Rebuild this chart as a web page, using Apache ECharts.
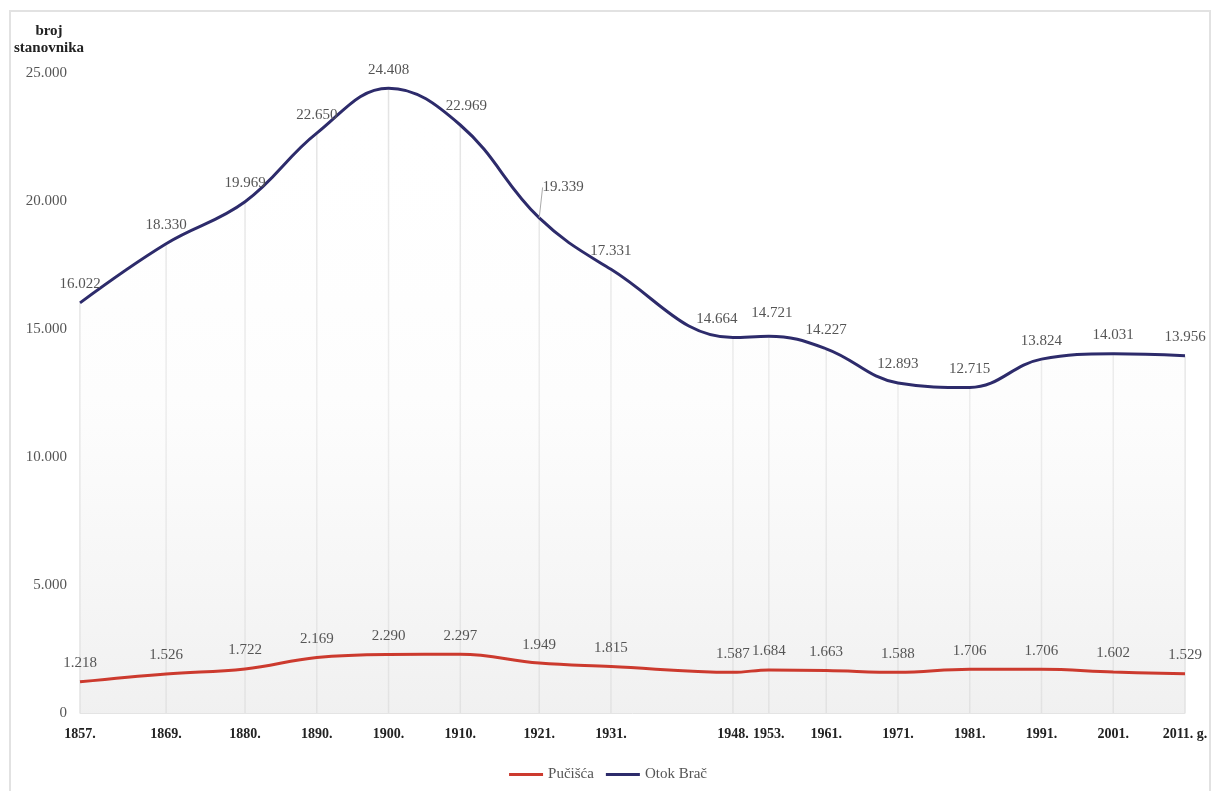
<!DOCTYPE html>
<html>
<head>
<meta charset="utf-8">
<script src="https://cdn.jsdelivr.net/npm/echarts@6/dist/echarts.min.js"></script>
<style>
  html, body { margin: 0; padding: 0; background: #fff; }
  #chart { width: 1216px; height: 791px; }
</style>
</head>
<body>
<div id="chart"></div>
<script>
  // godine popisa
  const years = [1857, 1869, 1880, 1890, 1900, 1910, 1921, 1931, 1948, 1953, 1961, 1971, 1981, 1991, 2001, 2011]
  // broj stanovnika
  const pucisca = [1218, 1526, 1722, 2169, 2290, 2297, 1949, 1815, 1587, 1684, 1663, 1588, 1706, 1706, 1602, 1529]
  const brac = [16022, 18330, 19969, 22650, 24408, 22969, 19339, 17331, 14664, 14721, 14227, 12893, 12715, 13824, 14031, 13956]
  const yTicks = [0, 5000, 10000, 15000, 20000, 25000]

  const serif = '"Liberation Serif", "DejaVu Serif", serif'

  /** 12345 -> 12.345 */
  function fmt(v) {
    return String(v).replace(/\B(?=(\d{3})+(?!\d))/g, '.')
  }

  const chart = echarts.init(document.getElementById('chart'))

  const bracPoints = years.map((y, i) => [y, brac[i]])
  const puciscaPoints = years.map((y, i) => [y, pucisca[i]])
  // oznaka 1921. ima spojnu liniju
  const bracData = bracPoints.map((d, i) => ({ value: d, labelLine: { show: i === 6 } }))

  const dataLabel = {
    show: true,
    position: 'top',
    distance: 11,
    fontFamily: serif,
    fontSize: 15,
    color: '#555',
    formatter: p => fmt(p.value[1])
  }

  chart.setOption({
    animation: false,
    backgroundColor: '#fff',
    graphic: [{
      type: 'rect',
      shape: { x: 10, y: 11, width: 1200, height: 790 },
      style: { fill: 'none', stroke: '#e2e2e2', lineWidth: 2 },
      silent: true
    }],
    grid: { left: 80, right: 31, top: 73, bottom: 78 },
    legend: {
      bottom: 4,
      left: 'center',
      itemWidth: 34,
      itemHeight: 3,
      itemGap: 12,
      icon: 'rect',
      textStyle: { fontFamily: serif, fontSize: 15, color: '#555' },
      data: ['Pučišća', 'Otok Brač']
    },
    xAxis: {
      type: 'value',
      min: years[0],
      max: years[years.length - 1],
      splitLine: { show: false },
      axisLine: { show: true, lineStyle: { color: '#e4e4e4', width: 1 } },
      axisTick: { show: false },
      axisLabel: {
        customValues: years,
        margin: 14,
        fontFamily: serif,
        fontWeight: 'bold',
        fontSize: 14,
        color: '#222',
        formatter: v => v === 2011 ? '2011. g.' : v + '.'
      }
    },
    yAxis: {
      type: 'value',
      min: 0,
      max: 25000,
      interval: 5000,
      name: 'broj\nstanovnika',
      nameLocation: 'end',
      nameGap: 16,
      nameTextStyle: {
        fontFamily: serif,
        fontWeight: 'bold',
        fontSize: 15,
        color: '#222',
        align: 'center',
        lineHeight: 17,
        padding: [0, 62, 0, 0]
      },
      splitLine: { show: false },
      axisLine: { show: false },
      axisTick: { show: false },
      axisLabel: {
        margin: 13,
        fontFamily: serif,
        fontSize: 15,
        color: '#555',
        formatter: v => fmt(v),
        customValues: yTicks
      }
    },
    series: [
      {
        // okomite linije od točke do osi
        name: 'drop',
        type: 'bar',
        silent: true,
        barWidth: 1.5,
        data: bracPoints,
        itemStyle: { color: '#e3e3e3' },
        z: 1
      },
      {
        name: 'Otok Brač',
        type: 'line',
        smooth: 0.4,
        symbol: 'circle',
        symbolSize: 0,
        showSymbol: true,
        data: bracData,
        color: '#2d2b6b',
        lineStyle: { width: 3, color: '#2d2b6b' },
        areaStyle: {
          color: new echarts.graphic.LinearGradient(0, 0, 0, 1, [
            { offset: 0, color: 'rgba(255,255,255,0)' },
            { offset: 0.5, color: 'rgba(250,250,250,0.6)' },
            { offset: 1, color: 'rgba(225,225,225,0.7)' }
          ])
        },
        label: dataLabel,
        labelLayout: p => {
          if (p.dataIndex === 6) return { dx: 24, dy: -12 }
          if (p.dataIndex === 5) return { dx: 6 }
          if (p.dataIndex === 8) return { dx: -16 }
          if (p.dataIndex === 9) return { dx: 3, dy: -5 }
          return {}
        },
        labelLine: { lineStyle: { color: '#aaa', width: 1 } },
        z: 2
      },
      {
        name: 'Pučišća',
        type: 'line',
        smooth: 0.4,
        symbol: 'circle',
        symbolSize: 0,
        showSymbol: true,
        data: puciscaPoints,
        color: '#cc3a2e',
        lineStyle: { width: 3, color: '#cc3a2e' },
        label: dataLabel,
        z: 3
      }
    ]
  })
</script>
</body>
</html>
